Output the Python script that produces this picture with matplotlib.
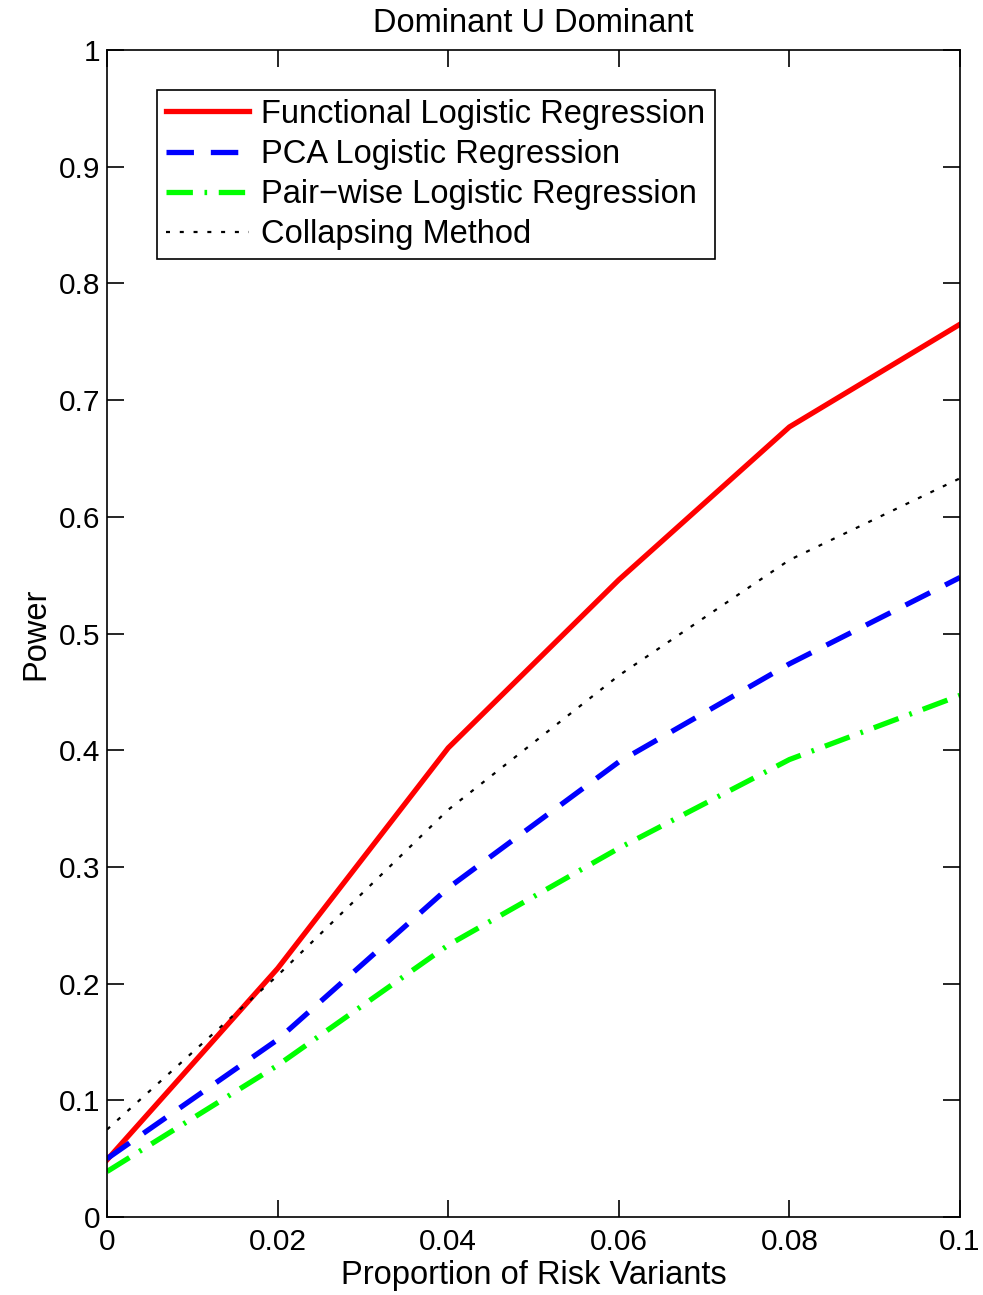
import matplotlib
matplotlib.use("Agg")
import matplotlib.pyplot as plt

x = [0, 0.02, 0.04, 0.06, 0.08, 0.1]
functional = [0.049, 0.213, 0.402, 0.546, 0.677, 0.765]
pca = [0.050, 0.152, 0.282, 0.390, 0.474, 0.548]
pairwise = [0.039, 0.130, 0.233, 0.316, 0.392, 0.447]
collapsing = [0.075, 0.207, 0.349, 0.464, 0.563, 0.633]

labels = ["Functional Logistic Regression", "PCA Logistic Regression",
          "Pair\u2212wise Logistic Regression", "Collapsing Method"]
xticks = [0, 0.02, 0.04, 0.06, 0.08, 0.1]
xticklabels = ["0", "0.02", "0.04", "0.06", "0.08", "0.1"]
yticks = [0, 0.1, 0.2, 0.3, 0.4, 0.5, 0.6, 0.7, 0.8, 0.9, 1]
yticklabels = ["0", "0.1", "0.2", "0.3", "0.4", "0.5", "0.6", "0.7", "0.8", "0.9", "1"]

plt.rcParams['font.family'] = ['Liberation Sans', 'DejaVu Sans']

fig = plt.figure(figsize=(9.83, 12.95), dpi=100)
ax = fig.add_axes([0.1089, 0.0602, 0.8677, 0.9012])

ax.plot(x, functional, color='#ff0000', lw=3.8, linestyle='-', label=labels[0])
ax.plot(x, pca, color='#0000ff', lw=3.8, linestyle=(0, (5.2, 3.2)), label=labels[1])
ax.plot(x, pairwise, color='#00ff00', lw=3.8, linestyle=(0, (5.0, 2.2, 0.5, 2.2)), label=labels[2])
ax.plot(x, collapsing, color='black', lw=1.6, linestyle=(0, (1.8, 4.4)), label=labels[3])

ax.set_xlim(0, 0.1)
ax.set_ylim(0, 1)
ax.set_xticks(xticks)
ax.set_xticklabels(xticklabels)
ax.set_yticks(yticks)
ax.set_yticklabels(yticklabels)
ax.tick_params(axis='both', which='both', direction='in', length=12, width=1.2,
               labelsize=21.5, top=True, right=True)
ax.tick_params(axis='y', pad=5)
ax.tick_params(axis='x', pad=8)
for s in ax.spines.values():
    s.set_linewidth(1.2)

ax.set_xlabel("Proportion of Risk Variants", fontsize=23.5, labelpad=3)
ax.set_ylabel("Power", fontsize=23.5, labelpad=5)
ax.set_title("Dominant U Dominant", fontsize=23.5, pad=13)

leg = ax.legend(loc='upper left', bbox_to_anchor=(0.0586, 0.966), fontsize=23.5,
                frameon=True, fancybox=False, edgecolor='black', framealpha=1,
                handlelength=2.55, handletextpad=0.37, borderpad=0.28, labelspacing=0.28,
                borderaxespad=0)
leg.get_frame().set_linewidth(1.2)

fig.savefig("out.png", dpi=100)
